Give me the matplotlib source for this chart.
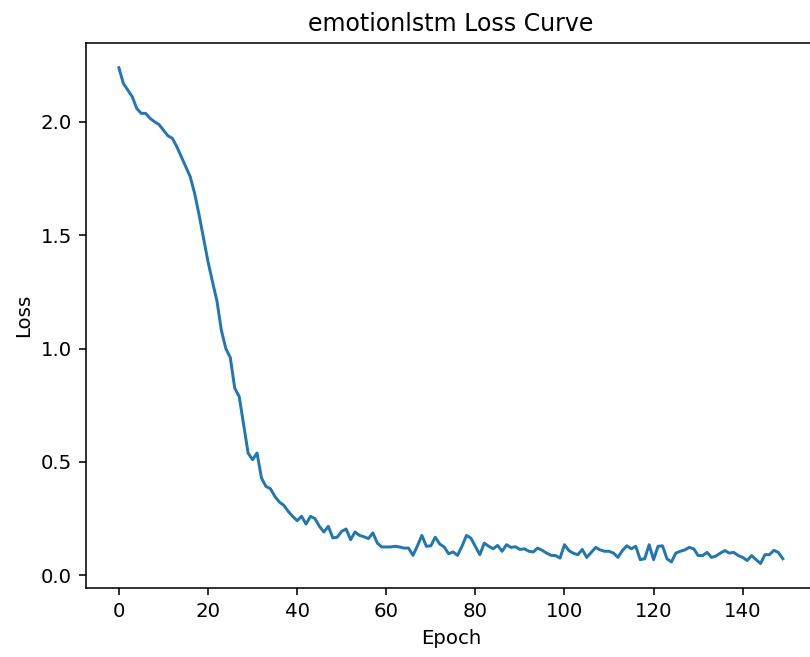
import matplotlib
matplotlib.use("Agg")
import matplotlib.pyplot as plt

epochs = list(range(150))
loss = [
    2.238, 2.169, 2.140, 2.110, 2.059, 2.037, 2.037, 2.015, 2.000, 1.988,
    1.963, 1.938, 1.927, 1.890, 1.846, 1.802, 1.758, 1.684, 1.589, 1.486,
    1.383, 1.295, 1.210, 1.080, 1.000, 0.960, 0.825, 0.788, 0.664, 0.539,
    0.510, 0.539, 0.429, 0.392, 0.382, 0.348, 0.323, 0.309, 0.282, 0.260,
    0.241, 0.260, 0.226, 0.260, 0.250, 0.216, 0.191, 0.216, 0.165, 0.168,
    0.194, 0.204, 0.157, 0.191, 0.176, 0.170, 0.162, 0.187, 0.142, 0.125,
    0.125, 0.125, 0.128, 0.125, 0.120, 0.120, 0.088, 0.130, 0.176, 0.128,
    0.130, 0.168, 0.138, 0.125, 0.095, 0.103, 0.088, 0.128, 0.176, 0.164,
    0.128, 0.091, 0.142, 0.128, 0.117, 0.132, 0.106, 0.135, 0.123, 0.126,
    0.114, 0.117, 0.106, 0.103, 0.120, 0.110, 0.098, 0.088, 0.087, 0.076,
    0.135, 0.109, 0.097, 0.091, 0.114, 0.079, 0.101, 0.123, 0.112, 0.106,
    0.106, 0.098, 0.079, 0.109, 0.130, 0.117, 0.128, 0.069, 0.073, 0.135,
    0.069, 0.128, 0.130, 0.073, 0.059, 0.098, 0.106, 0.112, 0.123, 0.117,
    0.087, 0.087, 0.101, 0.079, 0.085, 0.098, 0.109, 0.098, 0.101, 0.087,
    0.079, 0.065, 0.087, 0.069, 0.052, 0.091, 0.091, 0.110, 0.101, 0.073,
]

title = "emotionlstm Loss Curve"
xlabel = "Epoch"
ylabel = "Loss"

s = 1.42
plt.rcParams.update({
    "font.size": 10 * s,
    "lines.linewidth": 1.5 * s,
    "axes.linewidth": 0.8 * s,
    "xtick.major.size": 3.5 * s,
    "ytick.major.size": 3.5 * s,
    "xtick.major.width": 0.8 * s,
    "ytick.major.width": 0.8 * s,
    "xtick.major.pad": 3.5 * s,
    "ytick.major.pad": 3.5 * s,
    "axes.titlepad": 6.0 * s,
    "axes.labelpad": 4.0 * s,
})

fig = plt.figure(figsize=(8.1, 6.57), dpi=100)
ax = fig.add_axes([85.7 / 810, 68.7 / 657, (816 - 85.7) / 810, (588.3 - 43) / 657])
ax.plot(epochs, loss, color="#1f77b4")
ax.set_title(title)
ax.set_xlabel(xlabel)
ax.set_ylabel(ylabel)
ax.set_xticks(range(0, 141, 20))
ax.set_yticks([0.0, 0.5, 1.0, 1.5, 2.0])
fig.savefig("out.png", dpi=100)
